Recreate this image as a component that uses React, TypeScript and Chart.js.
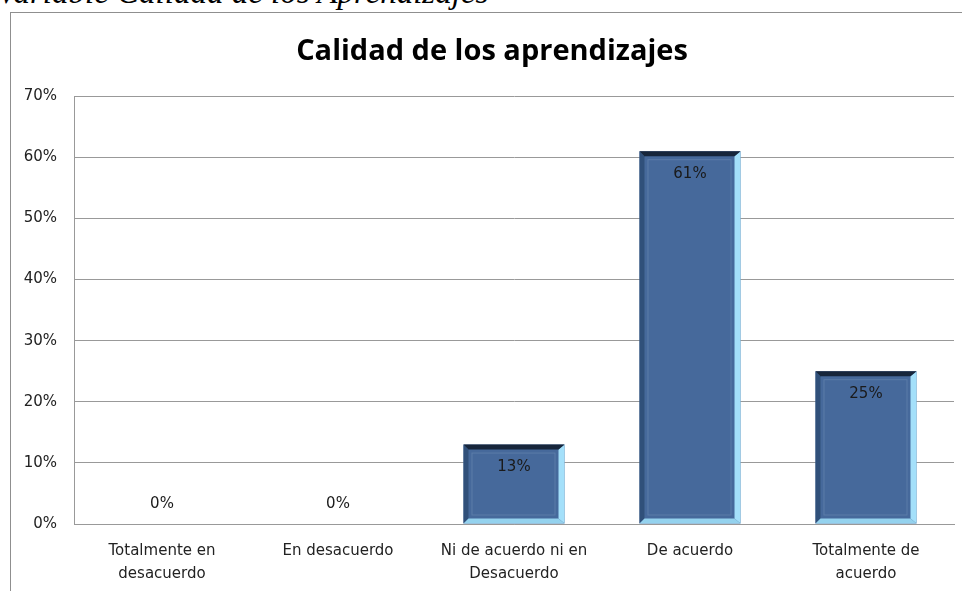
import React, { useEffect, useRef } from "react";
import { Chart, registerables } from "chart.js";

Chart.register(...registerables);

const pageHeading = "Variable Calidad de los Aprendizajes";
const chartTitle = "Calidad de los aprendizajes";
const categories: string[][] = [
  ["Totalmente en", "desacuerdo"],
  ["En desacuerdo"],
  ["Ni de acuerdo ni en", "Desacuerdo"],
  ["De acuerdo"],
  ["Totalmente de", "acuerdo"],
];
const values = [0, 0, 13, 61, 25];
const valueLabels = ["0%", "0%", "13%", "61%", "25%"];
const yMin = 0;
const yMax = 70;
const yStep = 10;

const bevelPlugin = {
  id: "bevel",
  afterDatasetsDraw(chart: any) {
    const ctx = chart.ctx;
    const meta = chart.getDatasetMeta(0);
    meta.data.forEach((bar: any) => {
      const { x, y, base, width } = bar.getProps(["x", "y", "base", "width"], true);
      const l = x - width / 2;
      const r = x + width / 2;
      const t = Math.min(y, base);
      const b = Math.max(y, base);
      if (b - t < 2) return;
      const e = 5;
      const poly = (pts: number[][], color: string) => {
        ctx.beginPath();
        ctx.moveTo(pts[0][0], pts[0][1]);
        for (let k = 1; k < pts.length; k++) ctx.lineTo(pts[k][0], pts[k][1]);
        ctx.closePath();
        ctx.fillStyle = color;
        ctx.fill();
      };
      ctx.save();
      poly([[l, t], [l + e, t + e], [l + e, b - e], [l, b]], "#30507a");
      poly([[r, t], [r, b], [r - e - 1, b - e], [r - e - 1, t + e]], "#a4e0fa");
      poly([[l, b], [r, b], [r - e - 1, b - e], [l + e, b - e]], "#94d2ee");
      poly([[l, t], [r, t], [r - e - 1, t + e], [l + e, t + e]], "#17263b");
      ctx.strokeStyle = "rgba(110,140,180,0.55)";
      ctx.lineWidth = 1;
      ctx.strokeRect(l + e + 3.5, t + e + 3.5, width - 2 * e - 8, b - t - 2 * e - 7);
      ctx.restore();
    });
  },
};

const labelPlugin = {
  id: "valueLabels",
  afterDatasetsDraw(chart: any) {
    const ctx = chart.ctx;
    const meta = chart.getDatasetMeta(0);
    ctx.save();
    ctx.font = "15px 'DejaVu Sans'";
    ctx.fillStyle = "#1a1a1a";
    ctx.textAlign = "center";
    ctx.textBaseline = "middle";
    meta.data.forEach((bar: any, i: number) => {
      const { x, y, base } = bar.getProps(["x", "y", "base"], true);
      const top = Math.min(y, base);
      const ty = values[i] === 0 ? base - 20 : top + 23;
      ctx.fillText(valueLabels[i], x, ty);
    });
    ctx.restore();
  },
};

export default function App() {
  const ref = useRef<HTMLCanvasElement>(null);
  useEffect(() => {
    if (!ref.current) return;
    const chart = new Chart(ref.current, {
      type: "bar",
      data: {
        labels: categories as any,
        datasets: [
          {
            data: values,
            backgroundColor: "#46699b",
            borderWidth: 0,
            barPercentage: 0.574,
            categoryPercentage: 1,
          },
        ],
      },
      options: {
        animation: false,
        responsive: false,
        maintainAspectRatio: false,
        devicePixelRatio: 1,
        layout: { padding: 0 },
        plugins: {
          legend: { display: false },
          tooltip: { enabled: false },
          title: {
            display: true,
            text: chartTitle,
            color: "#000",
            font: { family: "'Open Sans'", size: 29, weight: "bold", lineHeight: 1.2 },
            padding: { top: 21, bottom: 27.4 },
          },
        },
        scales: {
          x: {
            grid: { display: false },
            border: { display: true, color: "#999" },
            ticks: {
              color: "#222",
              font: { family: "'DejaVu Sans'", size: 15, lineHeight: 1.533 },
              padding: 8,
              maxRotation: 0,
              autoSkip: false,
            },
            afterFit(s: any) {
              s.height = 67;
            },
          },
          y: {
            min: yMin,
            max: yMax,
            grid: { color: "#999", drawTicks: false },
            border: { display: true, color: "#999" },
            ticks: {
              stepSize: yStep,
              padding: 17,
              color: "#222",
              font: { family: "'DejaVu Sans'", size: 15 },
              callback: (v: any) => v + "%",
            },
            afterFit(s: any) {
              s.width = 63;
            },
          },
          y2: {
            position: "right",
            display: true,
            grid: { display: false },
            border: { display: false },
            ticks: { display: false },
            afterFit(s: any) {
              s.width = 19;
            },
          },
        },
      } as any,
      plugins: [bevelPlugin, labelPlugin],
    });
    return () => chart.destroy();
  }, []);

  return (
    <div style={{ position: "fixed", left: 0, top: 0, width: 962, height: 591, overflow: "hidden", background: "#fff" }}>
      <div
        style={{
          position: "absolute",
          left: -3,
          top: -24.5,
          fontFamily: "'Liberation Serif', serif",
          fontStyle: "italic",
          fontSize: 33,
          lineHeight: "33px",
          whiteSpace: "nowrap",
          color: "#000",
        }}
      >
        {pageHeading}
      </div>
      <div
        style={{
          position: "absolute",
          left: 10,
          top: 12,
          width: 1000,
          height: 600,
          border: "1px solid #8f8f8f",
          boxSizing: "border-box",
        }}
      />
      <canvas ref={ref} width={962} height={578} style={{ position: "absolute", left: 11, top: 13, width: 962, height: 578 }} />
    </div>
  );
}
